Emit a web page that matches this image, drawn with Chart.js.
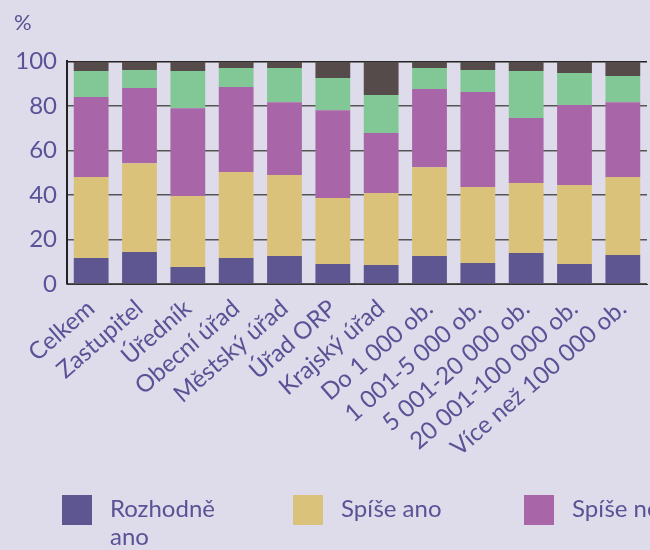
<!DOCTYPE html>
<html>
<head>
<meta charset="utf-8">
<script src="https://cdn.jsdelivr.net/npm/chart.js@4"></script>
<style>
  html, body { margin: 0; padding: 0; background: #dedcea; overflow: hidden; }
  #wrap { position: relative; width: 650px; height: 550px; }
  #myChart { position: absolute; left: 0; top: 0; }
  #legend { position: absolute; left: 0; top: 495px; width: 650px; padding-left: 62px; box-sizing: border-box;
            overflow: hidden; white-space: nowrap; font-family: Lato; font-size: 24px; color: #5a5296; }
  .item { display: inline-flex; vertical-align: top; width: 231px; align-items: flex-start; }
  .box { width: 30px; height: 30px; margin-right: 18px; flex: none; }
  .txt { white-space: normal; width: 125px; line-height: 28px; margin-top: -1px; }
</style>
</head>
<body>
<div id="wrap">
  <canvas id="myChart" width="650" height="550"></canvas>
  <div id="legend"></div>
</div>
<script>
const categories = ['Celkem', 'Zastupitel', 'Úředník', 'Obecní úřad', 'Městský úřad', 'Úřad ORP', 'Krajský úřad',
  'Do 1 000 ob.', '1 001-5 000 ob.', '5 001-20 000 ob.', '20 001-100 000 ob.', 'Více než 100 000 ob.'];
const seriesNames = ['Rozhodně ano', 'Spíše ano', 'Spíše ne', 'Rozhodně ne', 'Nevím'];
const rozhodneAno = [11.7, 14.4, 7.6, 11.7, 12.6, 9.0, 8.5, 12.6, 9.4, 13.9, 9.0, 13.0];
const spiseAno    = [36.4, 39.9, 31.9, 38.6, 36.4, 29.6, 32.4, 39.9, 34.2, 31.5, 35.5, 35.1];
const spiseNe     = [35.9, 33.7, 39.5, 38.2, 32.7, 39.5, 26.9, 35.1, 42.6, 29.2, 35.9, 33.6];
const rozhodneNe  = [11.7, 8.1, 16.7, 8.5, 15.3, 14.4, 17.1, 9.4, 9.9, 21.1, 14.4, 11.7];
const nevim       = [4.3, 3.9, 4.3, 3.0, 3.0, 7.5, 15.1, 3.0, 3.9, 4.3, 5.2, 6.6];
const yTicks = [0, 20, 40, 60, 80, 100];

const colors = ['#5e5690', '#dbc27a', '#a865a8', '#82c896', '#554b4a'];
const textColor = '#5a5296';

Chart.defaults.font.family = 'Lato';

const values = [rozhodneAno, spiseAno, spiseNe, rozhodneNe, nevim];
const ctx = document.getElementById('myChart');

new Chart(ctx, {
  type: 'bar',
  data: {
    labels: categories,
    datasets: values.map((v, i) => ({
      label: seriesNames[i],
      data: v,
      backgroundColor: colors[i],
      borderWidth: 0,
      categoryPercentage: 1,
      barPercentage: 0.72
    }))
  },
  options: {
    responsive: false,
    animation: false,
    layout: { padding: { left: 14, right: 3, top: 0, bottom: 0 } },
    plugins: {
      legend: { display: false },
      tooltip: { enabled: false },
      title: {
        display: true,
        text: '%',
        align: 'start',
        color: textColor,
        font: { size: 22, weight: 'normal' },
        padding: { top: 10, bottom: 25 }
      }
    },
    scales: {
      x: {
        stacked: true,
        grid: { display: false },
        border: { display: true, color: '#333', width: 1 },
        ticks: {
          color: textColor,
          font: { size: 24 },
          minRotation: 41,
          maxRotation: 41,
          autoSkip: false,
          padding: 2
        },
        afterFit: (scale) => { scale.height = 266; }
      },
      y: {
        stacked: true,
        min: 0,
        max: 100,
        afterBuildTicks: (scale) => { scale.ticks = yTicks.map(v => ({ value: v })); },
        grid: {
          color: (c) => c.tick && c.tick.value === 100 ? '#222' : '#555',
          lineWidth: 1.5,
          drawTicks: false
        },
        border: { display: true, color: '#222', width: 2 },
        ticks: {
          color: textColor,
          font: { size: 24 },
          padding: 10
        },
        afterFit: (scale) => { scale.width = 53; }
      }
    }
  }
});

const legend = document.getElementById('legend');
seriesNames.forEach((name, i) => {
  const item = document.createElement('div');
  item.className = 'item';
  const box = document.createElement('div');
  box.className = 'box';
  box.style.background = colors[i];
  const txt = document.createElement('div');
  txt.className = 'txt';
  txt.textContent = name;
  item.appendChild(box);
  item.appendChild(txt);
  legend.appendChild(item);
});
</script>
</body>
</html>
